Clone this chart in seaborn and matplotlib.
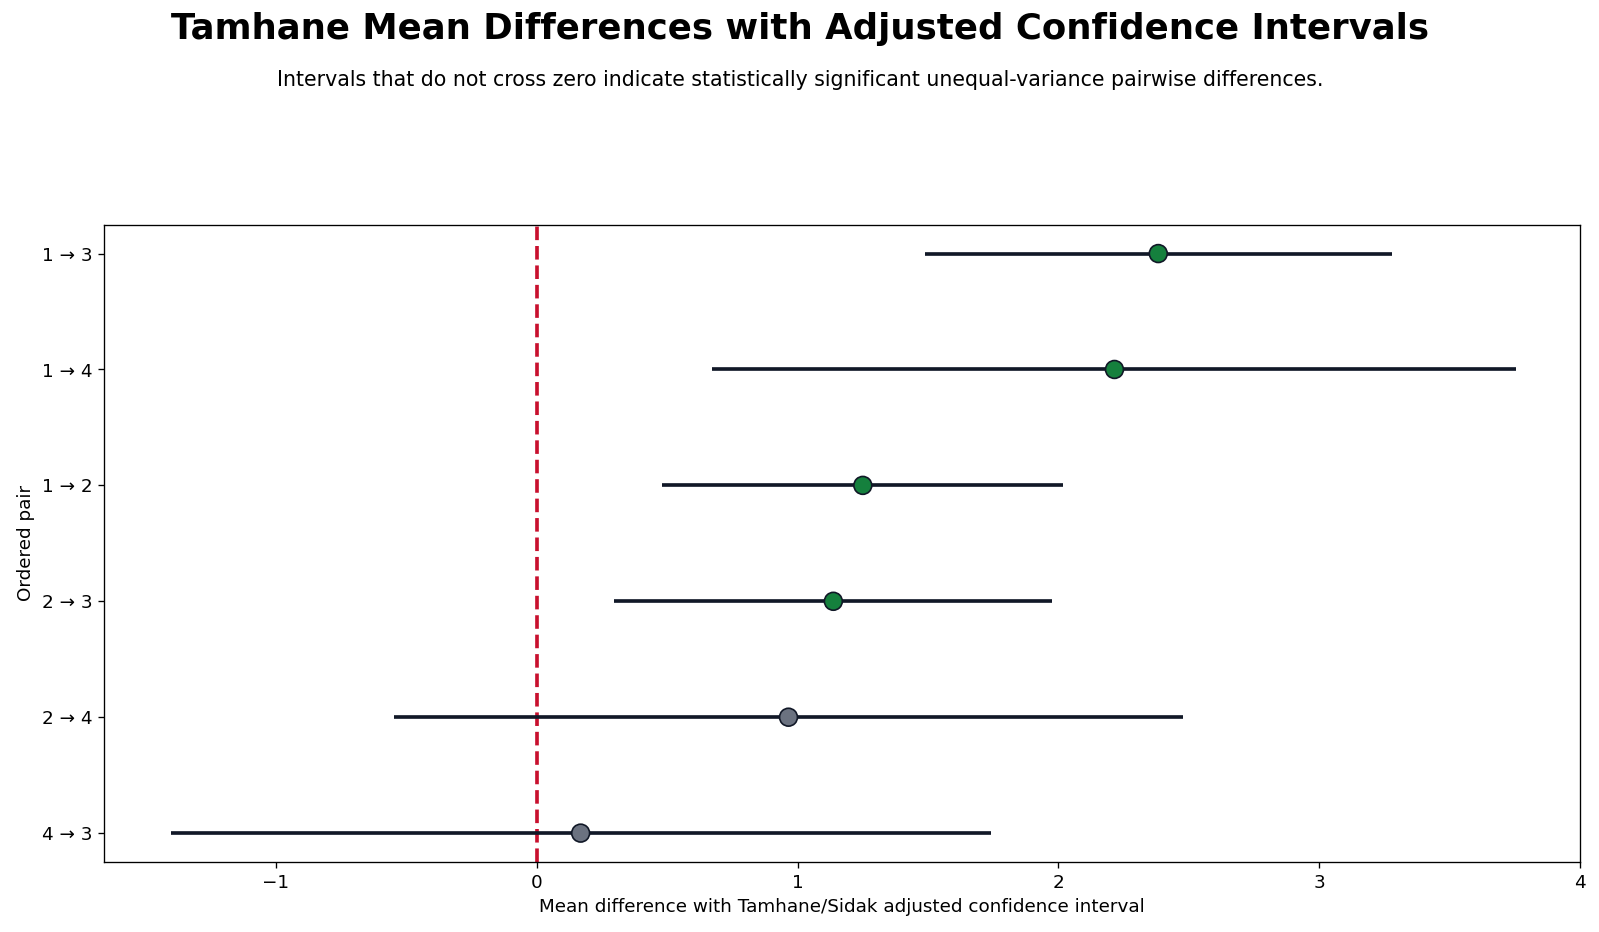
import matplotlib
matplotlib.use("Agg")
import matplotlib.pyplot as plt
import seaborn as sns
import numpy as np
import pandas as pd

# Tamhane pairwise comparisons
pairs = ["1 → 3", "1 → 4", "1 → 2", "2 → 3", "2 → 4", "4 → 3"]
mean_diff = [2.383, 2.215, 1.250, 1.137, 0.965, 0.168]
ci_low = [1.488, 0.672, 0.480, 0.297, -0.547, -1.402]
ci_high = [3.281, 3.754, 2.016, 1.977, 2.477, 1.742]

df = pd.DataFrame({"pair": pairs, "diff": mean_diff, "low": ci_low, "high": ci_high})
df["pos"] = np.arange(len(df))
df["significant"] = (df["low"] > 0) | (df["high"] < 0)

plt.rcParams["font.family"] = ["DejaVu Sans"]

fig, ax = plt.subplots(figsize=(13.333, 7.767), dpi=120)
fig.subplots_adjust(left=0.065, right=0.9875, top=0.759, bottom=0.075)

ax.hlines(df["pos"], df["low"], df["high"], color="#111827", linewidth=2.2, zorder=2)
colors = np.where(df["significant"], "#15803d", "#6b7280")
sns.scatterplot(x=df["diff"], y=df["pos"], ax=ax, s=115, c=colors,
                edgecolor="#111827", linewidth=1.0, zorder=3, legend=False)
ax.axvline(0, color="#c8102e", linestyle="--", linewidth=2.2, zorder=1)

ax.set_yticks(df["pos"])
ax.set_yticklabels(df["pair"], fontsize=11)
ax.invert_yaxis()
ax.tick_params(axis="x", labelsize=11)
ax.set_xlim(left=df["low"].min() - 0.05 * (df["high"].max() - df["low"].min()), right=4)
ax.set_xlabel("Mean difference with Tamhane/Sidak adjusted confidence interval", fontsize=11)
ax.set_ylabel("Ordered pair", fontsize=11)

fig.suptitle("Tamhane Mean Differences with Adjusted Confidence Intervals",
             fontsize=21.3, fontweight="bold", y=0.969, va="center")
fig.text(0.5, 0.914, "Intervals that do not cross zero indicate statistically significant "
         "unequal-variance pairwise differences.", ha="center", va="center", fontsize=12.3)

plt.savefig("out.png")
